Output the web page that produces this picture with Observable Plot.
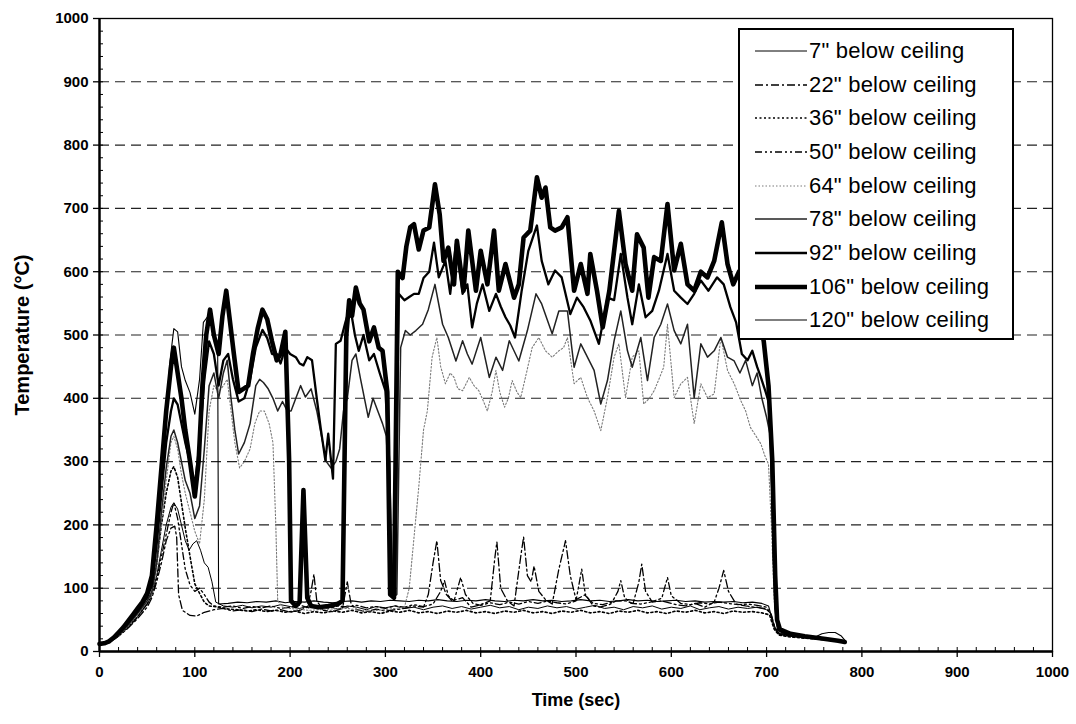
<!DOCTYPE html>
<html><head><meta charset="utf-8">
<script src="https://cdn.jsdelivr.net/npm/d3@7"></script>
<script src="https://cdn.jsdelivr.net/npm/@observablehq/plot@0.6"></script>
<style>
body{margin:0;background:#fff;}
#wrap{position:relative;width:1076px;height:724px;font-family:'Liberation Sans',Arial,sans-serif;}
#legend{position:absolute;left:738px;top:28px;width:272px;height:304px;border:2px solid #000;background:#fff;padding-top:4px;}
.row{display:flex;align-items:center;height:33.7px;}
.row svg{margin-left:15px;margin-right:2px;flex:none}
.row span{font-size:22px;color:#000;white-space:nowrap;letter-spacing:0.2px}
</style></head>
<body><div id="wrap"></div>
<script>
// ---- axis ticks / labels ----
const xTicks = [0,100,200,300,400,500,600,700,800,900,1000];
const yTicks = [0,100,200,300,400,500,600,700,800,900,1000];
const gridY = [100,200,300,400,500,600,700,800,900];
const seriesNames = ['7" below ceiling','22" below ceiling','36" below ceiling','50" below ceiling','64" below ceiling','78" below ceiling','92" below ceiling','106" below ceiling','120" below ceiling'];

// ---- series values [time (s), temperature (°C)] ----
const s7 = [[0,12],[10,15],[20,26],[30,40],[40,55],[50,75],[55,90],[60,120],[65,160],[70,200],[75,228],[78,235],[82,225],[86,200],[90,175],[94,160],[98,170],[102,175],[106,160],[110,140],[114,133],[118,110],[122,78],[130,72],[140,70],[150,73],[160,69],[170,72],[180,70],[190,74],[200,71],[210,68],[220,72],[230,69],[240,71],[250,67],[260,72],[270,70],[280,66],[290,71],[300,69],[310,72],[320,68],[330,70],[340,66],[350,70],[360,72],[370,68],[380,71],[390,67],[400,70],[410,73],[420,69],[430,71],[440,66],[450,70],[460,68],[470,72],[480,69],[490,71],[500,67],[510,70],[520,73],[530,68],[540,70],[550,66],[560,71],[570,69],[580,72],[590,67],[600,70],[610,68],[620,72],[630,66],[640,69],[650,71],[660,67],[670,70],[680,68],[690,70],[700,66],[704,60],[708,38],[712,28],[720,25],[735,22],[750,20],[765,18],[780,15]];
const s22 = [[0,12],[10,14],[20,24],[30,37],[40,52],[50,70],[55,85],[60,110],[65,140],[70,175],[75,195],[79,198],[81,180],[83,90],[87,65],[95,57],[102,56],[110,62],[120,66],[130,68],[140,64],[150,66],[160,63],[170,67],[180,64],[190,66],[200,62],[210,65],[218,70],[222,95],[225,122],[228,80],[235,65],[245,63],[255,68],[260,110],[264,75],[270,66],[280,63],[290,67],[300,64],[310,66],[320,68],[330,72],[340,70],[345,90],[350,140],[354,175],[358,112],[364,90],[370,80],[381,85],[390,70],[400,74],[410,80],[415,150],[417,173],[421,100],[428,80],[435,72],[442,150],[445,181],[449,120],[453,110],[456,135],[461,95],[468,82],[475,75],[482,130],[489,175],[494,120],[500,82],[510,90],[518,72],[525,70],[535,74],[542,80],[552,80],[560,76],[566,110],[569,138],[573,95],[580,78],[590,80],[605,74],[615,72],[625,76],[635,70],[645,78],[650,100],[655,128],[660,95],[668,75],[678,72],[688,70],[698,68],[704,62],[708,40],[713,28],[730,24],[750,21],[770,19],[782,17]];
const s36 = [[0,12],[10,14],[20,25],[30,39],[40,55],[50,76],[55,92],[60,140],[65,200],[70,250],[75,285],[78,292],[82,275],[86,235],[90,195],[95,150],[100,107],[105,92],[110,78],[115,72],[125,70],[135,67],[145,66],[155,64],[165,66],[175,63],[185,65],[195,62],[205,64],[215,60],[225,63],[235,61],[245,64],[255,62],[265,65],[275,61],[285,63],[295,60],[305,64],[315,62],[325,65],[335,61],[345,63],[355,60],[365,64],[375,62],[385,65],[395,61],[405,63],[415,60],[425,64],[435,62],[445,65],[455,61],[465,63],[475,60],[485,64],[495,62],[505,65],[515,61],[525,63],[535,60],[545,64],[555,62],[565,65],[575,61],[585,63],[595,60],[605,64],[615,62],[625,65],[635,61],[645,63],[655,60],[665,64],[675,62],[685,63],[695,61],[703,58],[708,35],[713,26],[725,23],[740,21],[760,19],[782,16]];
const s50 = [[0,12],[10,14],[20,25],[30,38],[40,55],[50,75],[55,88],[60,115],[65,150],[70,185],[75,220],[78,235],[82,210],[86,170],[90,130],[95,105],[100,95],[105,100],[110,90],[115,78],[120,72],[130,70],[140,72],[150,68],[160,71],[170,69],[180,72],[190,68],[200,70],[210,73],[220,69],[230,71],[240,68],[250,72],[260,70],[270,73],[280,69],[290,71],[300,68],[310,72],[320,70],[330,74],[340,71],[350,75],[358,95],[362,112],[366,88],[372,80],[379,117],[384,90],[392,76],[400,73],[410,77],[420,74],[430,78],[440,75],[450,79],[460,76],[470,80],[480,77],[490,75],[500,80],[506,130],[510,88],[518,76],[528,74],[538,78],[544,95],[547,112],[551,85],[558,76],[568,75],[578,78],[590,84],[596,117],[600,88],[610,76],[620,74],[630,77],[640,75],[650,78],[660,76],[670,74],[680,75],[690,73],[700,70],[705,58],[709,36],[714,27],[730,24],[750,21],[770,18],[782,16]];
const s64 = [[0,12],[10,14],[20,25],[30,40],[40,58],[50,78],[55,90],[60,130],[65,200],[70,270],[75,330],[78,340],[82,320],[86,280],[90,250],[95,220],[100,190],[105,170],[110,240],[115,380],[120,420],[125,410],[130,420],[134,430],[138,380],[142,330],[147,290],[152,300],[158,320],[163,360],[168,380],[173,380],[178,360],[182,330],[185,200],[187,80],[192,70],[200,68],[220,65],[240,67],[260,68],[280,64],[300,66],[320,70],[325,100],[330,180],[335,260],[340,350],[344,380],[349,465],[354,496],[358,450],[363,423],[368,440],[372,433],[376,415],[381,412],[388,433],[393,420],[398,412],[403,395],[407,380],[412,410],[416,444],[420,410],[425,386],[429,400],[433,428],[438,410],[442,401],[448,440],[454,480],[461,496],[468,475],[475,465],[482,475],[487,480],[491,496],[498,423],[505,433],[512,401],[519,380],[526,349],[533,401],[540,465],[545,486],[552,401],[559,465],[566,475],[571,391],[577,400],[582,412],[587,430],[592,449],[596,517],[603,401],[610,423],[617,433],[624,360],[631,423],[638,401],[645,407],[652,496],[659,444],[666,423],[673,396],[678,380],[683,354],[689,340],[694,328],[698,310],[702,296],[705,200],[708,80],[711,40],[715,30],[730,25],[760,20],[780,16]];
const s78 = [[0,12],[10,15],[20,27],[30,42],[40,60],[50,80],[55,95],[60,140],[65,220],[70,290],[75,340],[78,350],[82,330],[86,300],[90,270],[95,250],[100,210],[105,230],[110,320],[115,420],[120,440],[125,400],[130,440],[134,460],[138,400],[142,350],[146,312],[152,330],[158,360],[164,420],[168,430],[172,425],[177,415],[182,400],[187,380],[192,395],[197,380],[201,380],[206,400],[211,420],[216,402],[222,415],[228,380],[233,340],[238,300],[243,290],[248,300],[252,320],[256,380],[260,400],[265,460],[269,470],[274,430],[278,400],[282,370],[287,400],[292,380],[297,360],[301,340],[305,200],[308,85],[312,90],[316,480],[321,507],[326,500],[332,507],[339,517],[345,540],[352,580],[360,517],[366,496],[374,459],[381,491],[386,470],[391,454],[400,496],[409,433],[416,465],[423,444],[430,491],[440,459],[449,507],[458,565],[464,549],[475,502],[482,538],[491,538],[498,449],[505,486],[512,465],[519,444],[526,391],[533,428],[540,491],[547,538],[554,475],[559,449],[568,496],[575,428],[582,496],[589,517],[596,549],[603,507],[610,486],[617,517],[624,401],[631,486],[638,465],[645,475],[652,496],[659,465],[666,459],[672,440],[678,460],[685,420],[690,440],[695,400],[700,370],[704,340],[707,150],[710,55],[714,33],[730,26],[750,21],[770,18],[780,16]];
const s92 = [[0,12],[10,15],[20,28],[30,45],[40,63],[50,85],[55,105],[60,170],[65,250],[70,330],[75,380],[78,400],[82,390],[86,360],[90,330],[95,300],[100,260],[105,330],[110,430],[115,490],[120,470],[125,420],[130,460],[135,470],[140,430],[146,395],[152,400],[158,430],[164,480],[171,508],[176,495],[181,470],[186,470],[190,455],[195,480],[200,470],[206,465],[210,455],[214,452],[218,465],[223,460],[228,400],[232,354],[237,302],[240,344],[245,273],[248,486],[253,491],[258,520],[263,545],[268,500],[272,475],[277,500],[283,460],[288,470],[294,440],[300,412],[304,300],[307,86],[310,90],[314,565],[320,555],[325,560],[330,565],[335,565],[340,590],[346,600],[351,646],[356,591],[363,617],[368,565],[374,644],[381,565],[386,580],[391,512],[396,550],[402,580],[409,538],[416,565],[421,545],[426,528],[431,515],[436,496],[443,570],[450,633],[459,673],[464,617],[471,580],[478,602],[485,591],[494,533],[501,559],[508,544],[515,523],[524,486],[533,559],[540,555],[547,628],[554,559],[559,517],[566,580],[573,528],[580,538],[587,570],[596,628],[603,570],[610,559],[617,549],[624,565],[631,586],[639,570],[648,591],[655,580],[662,544],[668,520],[674,470],[680,460],[685,475],[690,450],[694,433],[699,410],[703,390],[706,250],[709,70],[712,34],[720,28],[740,23],[760,19],[780,16]];
const s106 = [[0,12],[5,13],[10,16],[15,22],[20,30],[25,38],[30,48],[35,58],[40,68],[45,78],[50,92],[55,120],[60,200],[65,290],[70,380],[75,450],[78,480],[82,440],[86,400],[90,350],[95,300],[100,245],[104,300],[108,420],[112,500],[116,540],[120,500],[125,470],[129,530],[133,570],[137,520],[141,470],[146,410],[151,415],[156,420],[161,470],[166,510],[171,540],[176,525],[181,490],[186,460],[190,470],[195,505],[199,300],[201,80],[206,72],[210,78],[214,255],[218,85],[222,72],[230,70],[240,72],[250,75],[255,80],[259,500],[262,555],[265,530],[269,575],[273,550],[277,540],[283,490],[288,512],[293,480],[297,475],[302,410],[305,90],[309,85],[313,600],[318,590],[322,640],[326,670],[330,675],[335,635],[340,665],[346,670],[352,738],[357,690],[361,617],[366,638],[372,580],[375,649],[382,570],[387,665],[395,570],[400,633],[407,580],[414,665],[419,570],[426,612],[435,559],[440,580],[445,654],[452,665],[459,749],[464,717],[468,733],[473,670],[478,665],[485,670],[491,686],[498,570],[505,612],[512,565],[515,628],[522,570],[528,512],[535,570],[540,633],[545,696],[552,612],[559,570],[564,659],[571,638],[576,559],[582,623],[589,617],[596,707],[603,602],[610,644],[617,580],[624,570],[631,600],[638,591],[645,617],[653,678],[659,612],[665,580],[671,600],[678,560],[685,580],[692,530],[697,490],[702,420],[706,300],[709,120],[711,50],[714,35],[725,28],[740,24],[760,20],[775,17],[782,15]];
const s120 = [[0,12],[10,15],[20,30],[30,50],[40,70],[50,90],[55,110],[60,180],[66,300],[70,380],[74,460],[78,510],[82,505],[86,450],[90,428],[95,409],[100,375],[105,430],[109,520],[114,530],[118,534],[121,490],[124,480],[125,75],[135,76],[145,78],[155,77],[165,79],[175,78],[185,80],[195,77],[205,79],[215,78],[225,80],[235,78],[245,77],[255,79],[265,80],[275,78],[285,80],[295,79],[305,81],[315,80],[325,79],[335,81],[345,80],[355,82],[365,80],[375,79],[385,81],[395,80],[405,82],[415,80],[425,79],[435,81],[445,80],[455,82],[465,80],[475,81],[485,79],[495,80],[505,82],[515,80],[525,81],[535,79],[545,80],[555,82],[565,80],[575,81],[585,79],[595,80],[605,81],[615,79],[625,80],[635,78],[645,79],[655,78],[665,79],[675,77],[685,78],[695,76],[702,72],[707,45],[711,30],[720,27],[735,24],[750,22],[758,28],[765,30],[772,30],[778,25],[782,18]];

// ---- styling (kept apart from the values) ----
const seriesData = [s7, s22, s36, s50, s64, s78, s92, s106, s120];
const styles = [
  {stroke:"#000", w:1, dash:null},
  {stroke:"#000", w:1.3, dash:"8,3,2,3"},
  {stroke:"#000", w:1.6, dash:"2,2.5"},
  {stroke:"#000", w:1.3, dash:"7,3,2,3,2,3"},
  {stroke:"#7a7a7a", w:1.1, dash:"1.5,2"},
  {stroke:"#222", w:1.5, dash:null},
  {stroke:"#000", w:2.3, dash:null},
  {stroke:"#000", w:4.6, dash:null},
  {stroke:"#000", w:1.1, dash:null}
];
const drawOrder = [0,1,2,3,8,4,5,6,7];

const rows = seriesData.map(arr => arr.map(([t, v]) => ({t, v})));

const lineMarks = drawOrder.map(i => Plot.line(rows[i], {
  x: "t", y: "v", stroke: styles[i].stroke, strokeWidth: styles[i].w,
  strokeDasharray: styles[i].dash, strokeLinejoin: "round"
}));

const minorX = d3.range(0, 1001, 20);
const minorY = d3.range(0, 1001, 20);

const chart = Plot.plot({
  width: 1076, height: 724,
  marginLeft: 99, marginRight: 24, marginTop: 18, marginBottom: 73,
  x: {domain: [0, 1000], axis: null},
  y: {domain: [0, 1000], axis: null},
  style: {fontFamily: "'Liberation Sans', Arial, sans-serif", fontSize: "15px", fontWeight: "bold", background: "white", color: "black"},
  marks: [
    Plot.ruleY(gridY, {stroke: "#222", strokeDasharray: "10,6", strokeWidth: 1.1}),
    Plot.frame({stroke: "#000", strokeWidth: 1.3}),
    ...lineMarks,
    Plot.dot(rows[8], {x: "t", y: "v", symbol: "plus", r: 2.2, fill: "#000", stroke: "none"}),
    Plot.ruleX([0], {stroke: "#000", strokeWidth: 2.4}),
    Plot.ruleY([0], {stroke: "#000", strokeWidth: 2.4}),
    Plot.axisX(xTicks, {anchor: "bottom", tickSize: 6, tickPadding: 9, tickFormat: "d", strokeWidth: 1.3, label: null}),
    Plot.axisX(minorX, {anchor: "bottom", tickSize: -4, text: null, strokeWidth: 1, label: null}),
    Plot.axisY(yTicks, {anchor: "left", tickSize: 6, tickPadding: 5, tickFormat: "d", strokeWidth: 1.3, label: null}),
    Plot.axisY(minorY, {anchor: "left", tickSize: -4, text: null, strokeWidth: 1, label: null}),
    Plot.text(["Time (sec)"], {text: d => d, frameAnchor: "bottom", dy: 54, fontSize: 18, fontWeight: "bold", textAnchor: "middle"}),
    Plot.text(["Temperature (°C)"], {text: d => d, frameAnchor: "left", dx: -77, rotate: -90, fontSize: 20, fontWeight: "bold", textAnchor: "middle"})
  ]
});

const wrap = document.getElementById("wrap");
wrap.appendChild(chart);

// ---- legend (HTML overlay) ----
const legend = document.createElement("div");
legend.id = "legend";
seriesNames.forEach((name, i) => {
  const st = styles[i];
  const row = document.createElement("div");
  row.className = "row";
  const ns = "http://www.w3.org/2000/svg";
  const svg = document.createElementNS(ns, "svg");
  svg.setAttribute("width", 52); svg.setAttribute("height", 12);
  const ln = document.createElementNS(ns, "line");
  ln.setAttribute("x1", 0); ln.setAttribute("x2", 52);
  ln.setAttribute("y1", 6); ln.setAttribute("y2", 6);
  ln.setAttribute("stroke", st.stroke);
  ln.setAttribute("stroke-width", st.w);
  if (st.dash) ln.setAttribute("stroke-dasharray", st.dash);
  svg.appendChild(ln);
  if (i === 8) {
    const p = document.createElementNS(ns, "path");
    p.setAttribute("d", d3.symbol(d3.symbolPlus, 16)());
    p.setAttribute("transform", "translate(28,6)");
    p.setAttribute("fill", "#000");
    svg.appendChild(p);
  }
  const span = document.createElement("span");
  span.textContent = name;
  row.appendChild(svg); row.appendChild(span);
  legend.appendChild(row);
});
wrap.appendChild(legend);
</script>
</body></html>
